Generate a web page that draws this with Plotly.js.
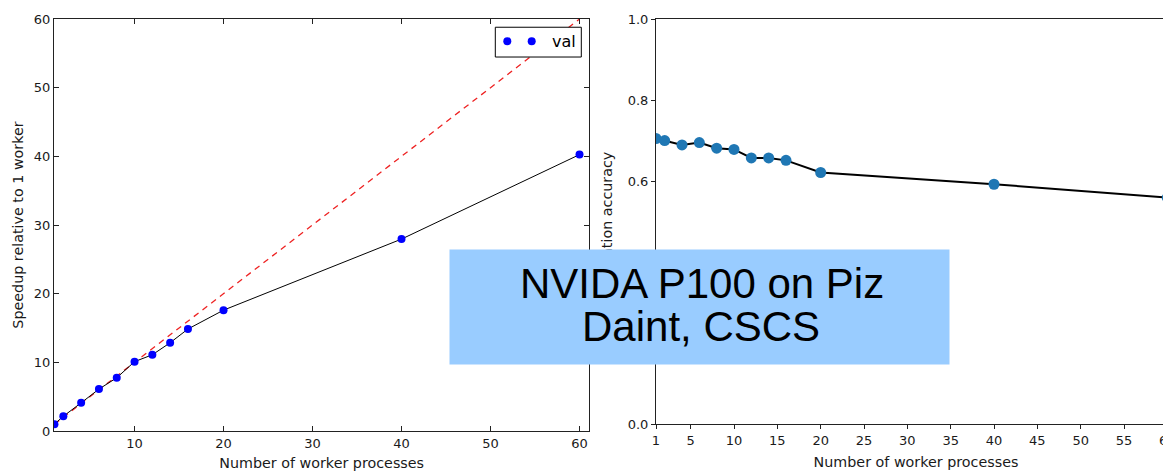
<!DOCTYPE html>
<html>
<head>
<meta charset="utf-8">
<script src="https://cdn.plot.ly/plotly-3.0.1.min.js"></script>
<style>
  html, body { margin: 0; padding: 0; overflow: hidden; background: #fff; }
  #chart { width: 1200px; height: 500px; }
</style>
</head>
<body>
<div id="chart"></div>
<script>
// ---- data ----
const workers = [1, 2, 4, 6, 8, 10, 12, 14, 16, 20, 40, 60];
const speedup = [1.0, 2.15, 4.1, 6.1, 7.75, 10.1, 11.1, 12.85, 14.85, 17.6, 27.95, 40.25];
const idealWorkers = [1, 60];
const idealSpeedup = [1, 60];
const accuracy = [0.705, 0.700, 0.689, 0.695, 0.681, 0.678, 0.657, 0.657, 0.651, 0.621, 0.592, 0.559];
const leftXTicks = [10, 20, 30, 40, 50, 60];
const leftYTicks = [0, 10, 20, 30, 40, 50, 60];
const rightXTicks = [1, 5, 10, 15, 20, 25, 30, 35, 40, 45, 50, 55, 60];
const rightYTicks = [0.0, 0.2, 0.4, 0.6, 0.8, 1.0];
const legendLabel = 'val';
const leftXTitle = 'Number of worker processes';
const leftYTitle = 'Speedup relative to 1 worker';
const rightXTitle = 'Number of worker processes';
const rightYTitle = 'Validation accuracy';
const boxLines = ['NVIDA P100 on Piz', 'Daint, CSCS'];

// ---- layout helpers (pixel -> paper) ----
const W = 1200, H = 500;
const M = {l: 54, r: 24, t: 16, b: 69};
const PW = W - M.l - M.r, PH = H - M.t - M.b;
const px = x => (x - M.l) / PW;
const py = y => (H - M.b - y) / PH;

const FONT = 'DejaVu Sans, Verdana, sans-serif';
const TXT = '#1a1a1a';
const TSIZE = 14.3;
const BOXFONT = {family: 'Liberation Sans, Arial, sans-serif', size: 42, color: '#000'};

const traces = [
  {
    x: idealWorkers, y: idealSpeedup, xaxis: 'x', yaxis: 'y',
    mode: 'lines', line: {color: '#ee2222', width: 1.3, dash: '6px,5px'},
    showlegend: false, hoverinfo: 'skip'
  },
  {
    x: workers, y: speedup, xaxis: 'x', yaxis: 'y', name: legendLabel,
    mode: 'lines+markers', line: {color: '#000', width: 1},
    marker: {color: '#0000ff', size: 8}, showlegend: false
  },
  {
    x: workers, y: accuracy, xaxis: 'x2', yaxis: 'y2',
    mode: 'lines+markers', line: {color: '#000', width: 2},
    marker: {color: '#1f77b4', size: 11}, showlegend: false
  }
];

const axBase = {
  showgrid: false, zeroline: false, showline: true, linecolor: '#222', linewidth: 1,
  tickcolor: '#222', tickwidth: 1, tickfont: {family: FONT, size: 13, color: TXT},
  automargin: true
};

const layout = {
  width: W, height: H,
  margin: M,
  paper_bgcolor: '#fff', plot_bgcolor: '#fff',
  showlegend: false,
  xaxis: Object.assign({}, axBase, {
    domain: [0, px(589.3)], range: [0.95, 61.1], anchor: 'y',
    tickmode: 'array', tickvals: leftXTicks,
    ticks: 'inside', ticklen: 5, mirror: 'ticks',
    title: {text: leftXTitle, font: {family: FONT, size: TSIZE, color: TXT}, standoff: 8}
  }),
  yaxis: Object.assign({}, axBase, {
    domain: [0, 1], range: [0, 60], anchor: 'x',
    tickmode: 'array', tickvals: leftYTicks,
    ticks: 'inside', ticklen: 5, mirror: 'ticks',
    title: {text: leftYTitle, font: {family: FONT, size: TSIZE, color: TXT}, standoff: 6}
  }),
  xaxis2: Object.assign({}, axBase, {
    domain: [px(656), 1], range: [1, 61], anchor: 'y2',
    tickmode: 'array', tickvals: rightXTicks,
    ticks: 'outside', ticklen: 4, mirror: true,
    title: {text: rightXTitle, font: {family: FONT, size: TSIZE, color: TXT}, standoff: 10}
  }),
  yaxis2: Object.assign({}, axBase, {
    domain: [py(424), 1], range: [0, 1], anchor: 'x2',
    tickmode: 'array', tickvals: rightYTicks, tickformat: '.1f',
    ticks: 'outside', ticklen: 4, mirror: true,
    title: {text: rightYTitle, font: {family: FONT, size: TSIZE, color: TXT}, standoff: 11}
  }),
  shapes: [
    // legend frame
    {type: 'rect', xref: 'paper', yref: 'paper', layer: 'above',
     x0: px(495.3), x1: px(581.3), y0: py(54.3), y1: py(24.3),
     line: {color: '#000', width: 1}, fillcolor: '#fff'},
    // legend markers
    {type: 'circle', xref: 'paper', yref: 'paper', layer: 'above',
     xsizemode: 'pixel', ysizemode: 'pixel', xanchor: px(507.3), yanchor: py(38.3),
     x0: -4, x1: 4, y0: -4, y1: 4, line: {width: 0}, fillcolor: '#0000ff'},
    {type: 'circle', xref: 'paper', yref: 'paper', layer: 'above',
     xsizemode: 'pixel', ysizemode: 'pixel', xanchor: px(531.7), yanchor: py(38.3),
     x0: -4, x1: 4, y0: -4, y1: 4, line: {width: 0}, fillcolor: '#0000ff'}
  ],
  annotations: [
    {xref: 'paper', yref: 'paper', x: px(549.5), y: py(38.5), xanchor: 'left', yanchor: 'middle',
     text: legendLabel, showarrow: false, font: {family: FONT, size: 16, color: '#000'}},
    // overlay box
    {xref: 'paper', yref: 'paper', x: px(699.5), y: py(306), xanchor: 'center', yanchor: 'middle',
     text: '\u00a0', showarrow: false, width: 499, height: 114, borderpad: 0, bgcolor: '#99ccff'},
    {xref: 'paper', yref: 'paper', x: px(702), y: py(282), xanchor: 'center', yanchor: 'middle',
     text: boxLines[0], showarrow: false, font: BOXFONT},
    {xref: 'paper', yref: 'paper', x: px(701), y: py(325.5), xanchor: 'center', yanchor: 'middle',
     text: boxLines[1], showarrow: false, font: BOXFONT}
  ]
};

Plotly.newPlot('chart', traces, layout, {displayModeBar: false, staticPlot: true});
</script>
</body>
</html>
